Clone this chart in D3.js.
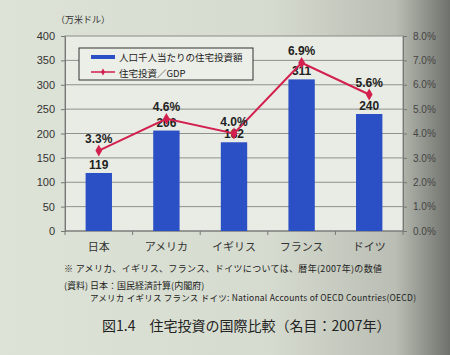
<!DOCTYPE html>
<html lang="ja">
<head>
    <meta charset="UTF-8">
    <title>住宅投資の国際比較</title>
    <style>
        body {
            margin: 0;
            padding: 0;
            overflow: hidden;
            width: 450px;
            height: 355px;
            background: linear-gradient(90deg, #dde3d6 0%, #d6dbcf 60%, #b9bdb3 88%, #6f716c 100%);
            font-family: "Noto Sans CJK JP", "Noto Sans", sans-serif;
        }
        svg { display: block; }
    </style>
</head>
<body>
    <div id="chart"></div>
    <script src="https://d3js.org/d3.v7.min.js"></script>
    <script>
        // data
        const countries = ['日本', 'アメリカ', 'イギリス', 'フランス', 'ドイツ'];
        const investPerThousand = [119, 206, 182, 311, 240];
        const investGdp = [3.3, 4.6, 4.0, 6.9, 5.6];
        const leftTicks = [0, 50, 100, 150, 200, 250, 300, 350, 400];
        const rightTicks = [0, 1, 2, 3, 4, 5, 6, 7, 8];
        const legendLabels = ['人口千人当たりの住宅投資額', '住宅投資／GDP'];

        const W = 450, H = 355;
        const margin = { left: 65, right: 47, top: 36, bottom: 124 };
        const pw = W - margin.left - margin.right;
        const ph = H - margin.top - margin.bottom;

        const svg = d3.select('#chart').append('svg')
            .attr('width', W)
            .attr('height', H);

        const g = svg.append('g')
            .attr('transform', `translate(${margin.left},${margin.top})`);

        const x = d3.scaleBand().domain(countries).range([0, pw]).paddingInner(0.61).paddingOuter(0.305);
        const xb = d3.scaleBand().domain(countries).range([0, pw]);
        const yL = d3.scaleLinear().domain([0, 400]).range([ph, 0]);
        const yR = d3.scaleLinear().domain([0, 8]).range([ph, 0]);

        // plot area
        g.append('rect')
            .attr('width', pw).attr('height', ph)
            .attr('fill', '#e9ece4')
            .attr('stroke', '#8a8c88')
            .attr('stroke-width', 1);

        // gridlines
        g.selectAll('.grid')
            .data(leftTicks.slice(1, -1))
            .enter().append('line')
            .attr('x1', 0).attr('x2', pw)
            .attr('y1', d => yL(d)).attr('y2', d => yL(d))
            .attr('stroke', '#8f918c')
            .attr('stroke-width', 1);

        // left axis
        const axL = g.append('g')
            .call(d3.axisLeft(yL).tickValues(leftTicks).tickSize(4).tickPadding(6));
        axL.select('.domain').attr('stroke', '#777');
        axL.selectAll('line').attr('stroke', '#777');
        axL.selectAll('text').attr('font-size', 11).attr('fill', '#333')
            .attr('font-family', 'Liberation Sans, Arial, sans-serif');

        // right axis
        const axR = g.append('g')
            .attr('transform', `translate(${pw},0)`)
            .call(d3.axisRight(yR).tickValues(rightTicks).tickSize(4).tickPadding(6)
                .tickFormat(d => d.toFixed(1) + '%'));
        axR.select('.domain').attr('stroke', '#777');
        axR.selectAll('line').attr('stroke', '#777');
        axR.selectAll('text').attr('font-size', 10).attr('fill', '#444')
            .attr('font-family', 'Liberation Sans Narrow, Liberation Sans, sans-serif');

        // bottom axis with ticks at band boundaries
        const axB = g.append('g')
            .attr('transform', `translate(0,${ph})`);
        axB.append('line').attr('x1', 0).attr('x2', pw).attr('stroke', '#777');
        axB.selectAll('.tk')
            .data(countries.concat(['end']))
            .enter().append('line')
            .attr('x1', (d, i) => i < countries.length ? xb(d) : pw)
            .attr('x2', (d, i) => i < countries.length ? xb(d) : pw)
            .attr('y1', 0).attr('y2', 4)
            .attr('stroke', '#777');
        axB.selectAll('.lbl')
            .data(countries)
            .enter().append('text')
            .attr('x', d => xb(d) + xb.bandwidth() / 2)
            .attr('y', 20)
            .attr('text-anchor', 'middle')
            .attr('font-size', 11)
            .attr('fill', '#333')
            .text(d => d);

        // bars
        g.selectAll('.bar')
            .data(investPerThousand)
            .enter().append('rect')
            .attr('x', (d, i) => x(countries[i]))
            .attr('y', d => yL(d))
            .attr('width', x.bandwidth())
            .attr('height', d => ph - yL(d))
            .attr('fill', '#2b4fc4');

        g.selectAll('.barlbl')
            .data(investPerThousand)
            .enter().append('text')
            .attr('x', (d, i) => x(countries[i]) + x.bandwidth() / 2)
            .attr('y', d => yL(d) - 4)
            .attr('text-anchor', 'middle')
            .attr('font-size', 12)
            .attr('font-weight', 'bold')
            .attr('fill', '#222')
            .attr('font-family', 'Liberation Sans, Arial, sans-serif')
            .text(d => d);

        // line
        const line = d3.line()
            .x((d, i) => xb(countries[i]) + xb.bandwidth() / 2)
            .y(d => yR(d));

        g.append('path')
            .datum(investGdp)
            .attr('d', line)
            .attr('fill', 'none')
            .attr('stroke', '#d2204f')
            .attr('stroke-width', 2);

        g.selectAll('.pt')
            .data(investGdp)
            .enter().append('path')
            .attr('d', d3.symbol(d3.symbolDiamond, 40))
            .attr('transform', (d, i) => `translate(${xb(countries[i]) + xb.bandwidth() / 2},${yR(d)})`)
            .attr('fill', '#d2204f');

        g.selectAll('.ptlbl')
            .data(investGdp)
            .enter().append('text')
            .attr('x', (d, i) => xb(countries[i]) + xb.bandwidth() / 2)
            .attr('y', d => yR(d) - 8)
            .attr('text-anchor', 'middle')
            .attr('font-size', 12)
            .attr('font-weight', 'bold')
            .attr('fill', '#222')
            .attr('font-family', 'Liberation Sans, Arial, sans-serif')
            .text(d => d.toFixed(1) + '%');

        // legend
        const lg = g.append('g').attr('transform', 'translate(14,12)');
        lg.append('rect')
            .attr('width', 174).attr('height', 32)
            .attr('fill', '#eceee8')
            .attr('stroke', '#333')
            .attr('stroke-width', 1);
        lg.append('rect')
            .attr('x', 12).attr('y', 7).attr('width', 24).attr('height', 4)
            .attr('fill', '#2b4fc4');
        lg.append('line')
            .attr('x1', 12).attr('x2', 36).attr('y1', 24).attr('y2', 24)
            .attr('stroke', '#d2204f').attr('stroke-width', 1.5);
        lg.append('path')
            .attr('d', d3.symbol(d3.symbolDiamond, 14))
            .attr('transform', 'translate(24,24)')
            .attr('fill', '#d2204f');
        lg.selectAll('.lgtxt')
            .data(legendLabels)
            .enter().append('text')
            .attr('x', 40)
            .attr('y', (d, i) => 13 + i * 16)
            .attr('font-size', 9.5)
            .attr('fill', '#222')
            .text(d => d);

        // unit label
        svg.append('text')
            .attr('x', 56).attr('y', 23)
            .attr('font-size', 9)
            .attr('fill', '#333')
            .text('（万米ドル）');

        // notes below the chart
        const notes = svg.append('g').attr('fill', '#222');
        notes.append('text')
            .attr('x', 64).attr('y', 272)
            .attr('font-size', 9)
            .attr('textLength', 318)
            .text('※  アメリカ、イギリス、フランス、ドイツについては、暦年(2007年)の数値');
        notes.append('text')
            .attr('x', 64).attr('y', 289)
            .attr('font-size', 9)
            .text('(資料) 日本：国民経済計算(内閣府)');
        notes.append('text')
            .attr('x', 90).attr('y', 301)
            .attr('font-size', 8.5)
            .attr('textLength', 326)
            .text('アメリカ イギリス フランス ドイツ: National  Accounts of OECD Countries(OECD)');

        svg.append('text')
            .attr('x', 102).attr('y', 331)
            .attr('font-size', 14)
            .attr('fill', '#222')
            .text('図1.4　住宅投資の国際比較（名目：2007年）');
    </script>
</body>
</html>
